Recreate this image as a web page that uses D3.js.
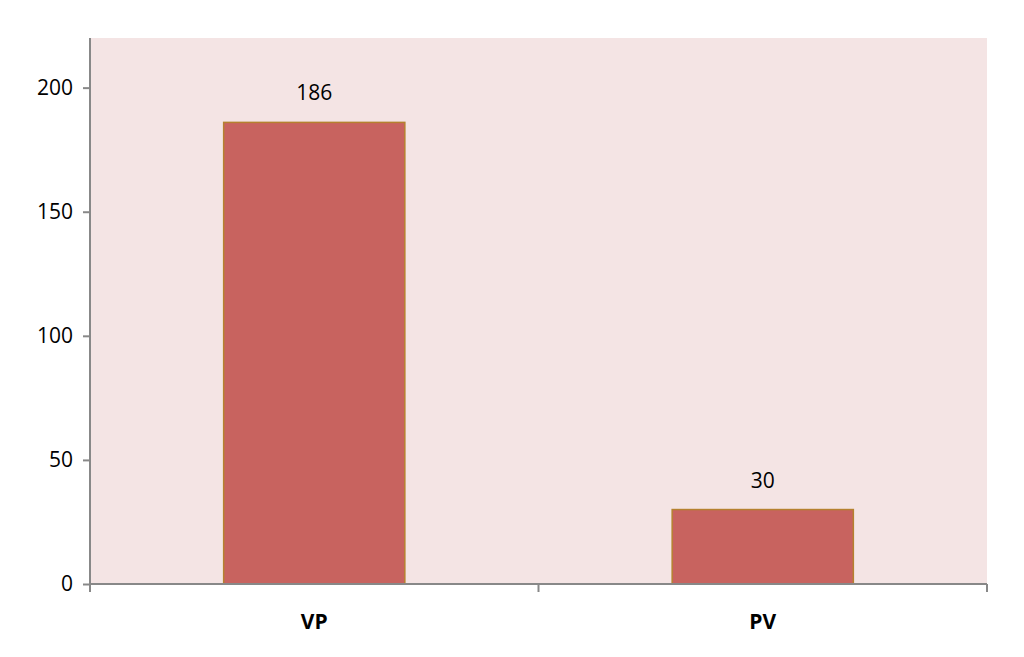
<!DOCTYPE html>
<html><head><meta charset="utf-8">
<script src="https://cdn.jsdelivr.net/npm/d3@7"></script>
<style>body{margin:0;background:#fff}text{font-family:"Open Sans",sans-serif}</style>
</head><body><svg id="c" width="1024" height="657"></svg>
<script>
const categories = ["VP", "PV"];
const values = [186, 30];
const yTicks = [0, 50, 100, 150, 200];

const svg = d3.select("#c");
const L = 90, R = 987, T = 38, B = 584;
const x = d3.scaleBand().domain(categories).range([L, R]).padding(0);
const y = d3.scaleLinear().domain([0, 220]).range([B, T]);

svg.append("rect").attr("x", L).attr("y", T).attr("width", R - L).attr("height", B - T).attr("fill", "#f4e4e4");

const bw = x.bandwidth() * 0.404;
svg.selectAll(".bar").data(values).enter().append("rect")
  .attr("x", (d, i) => x(categories[i]) + x.bandwidth() / 2 - bw / 2)
  .attr("y", d => y(d)).attr("width", bw).attr("height", d => B - y(d))
  .attr("fill", "#c8635f").attr("stroke", "#b5812f").attr("stroke-width", 1.5);

svg.selectAll(".lbl").data(values).enter().append("text")
  .attr("x", (d, i) => x(categories[i]) + x.bandwidth() / 2)
  .attr("y", d => y(d) - 22).attr("text-anchor", "middle")
  .attr("font-size", 21).attr("fill", "#000").text(d => d);

const ya = svg.append("g").attr("transform", `translate(${L},0)`)
  .call(d3.axisLeft(y).tickValues(yTicks).tickSize(7).tickPadding(10));
ya.selectAll("text").attr("font-size", 21).attr("fill", "#000");
ya.select(".domain").attr("d", `M-7,${T}H0V${B}H-7`).remove();
svg.append("line").attr("x1", L).attr("x2", L).attr("y1", T).attr("y2", B).attr("stroke", "#888").attr("stroke-width", 2);
ya.selectAll("line").attr("stroke", "#888").attr("stroke-width", 2);

const xa = svg.append("g").attr("transform", `translate(0,${B})`);
xa.append("line").attr("x1", L).attr("x2", R).attr("stroke", "#888").attr("stroke-width", 2);
[L, (L + R) / 2, R].forEach(p => xa.append("line").attr("x1", p).attr("x2", p).attr("y1", 0).attr("y2", 8).attr("stroke", "#888").attr("stroke-width", 2));
xa.selectAll(".cl").data(categories).enter().append("text")
  .attr("x", d => x(d) + x.bandwidth() / 2).attr("y", 45).attr("text-anchor", "middle")
  .attr("font-size", 21).attr("font-weight", "bold").attr("fill", "#000").text(d => d);
</script></body></html>
